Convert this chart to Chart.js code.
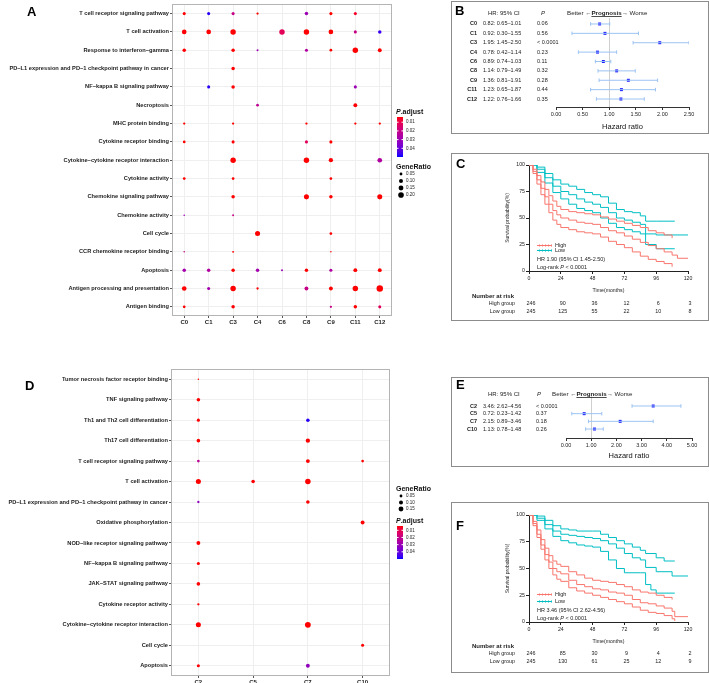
<!DOCTYPE html>
<html>
<head>
<meta charset="utf-8">
<script src="https://cdn.jsdelivr.net/npm/chart.js@4"></script>
<style>
  body { margin: 0; background: #fff; }
  #wrap { position: relative; width: 709px; height: 683px; overflow: hidden; font-family: "Liberation Sans", Arial, sans-serif; }
  canvas { position: absolute; left: 0; top: 0; }
  .box { position: absolute; border: 1px solid #8c8c8c; box-sizing: border-box; }
  .tag { position: absolute; font-weight: bold; font-size: 13px; line-height: 13px; color: #000; }
</style>
</head>
<body>
<div id="wrap">
  <div class="box" style="left:451px;top:1px;width:258px;height:133px"></div>
  <div class="box" style="left:451px;top:153px;width:258px;height:168px"></div>
  <div class="box" style="left:451px;top:377px;width:258px;height:90px"></div>
  <div class="box" style="left:451px;top:502px;width:258px;height:171px"></div>

  <canvas id="dotA" width="709" height="683"></canvas>
  <canvas id="forestB" width="709" height="683"></canvas>
  <canvas id="kmC" width="709" height="683"></canvas>
  <canvas id="dotD" width="709" height="683"></canvas>
  <canvas id="forestE" width="709" height="683"></canvas>
  <canvas id="kmF" width="709" height="683"></canvas>

  <div class="tag" style="left:27px;top:5px">A</div>
  <div class="tag" style="left:455px;top:4px">B</div>
  <div class="tag" style="left:456px;top:157px">C</div>
  <div class="tag" style="left:25px;top:379px">D</div>
  <div class="tag" style="left:456px;top:378px">E</div>
  <div class="tag" style="left:456px;top:519px">F</div>
</div>

<script>
// ---------- panel A : enrichment dot plot ----------
const clustersA = ['C0', 'C1', 'C3', 'C4', 'C6', 'C8', 'C9', 'C11', 'C12'];
const pathwaysA = [
  'T cell receptor signaling pathway',
  'T cell activation',
  'Response to interferon−gamma',
  'PD−L1 expression and PD−1 checkpoint pathway in cancer',
  'NF−kappa B signaling pathway',
  'Necroptosis',
  'MHC protein binding',
  'Cytokine receptor binding',
  'Cytokine−cytokine receptor interaction',
  'Cytokine activity',
  'Chemokine signaling pathway',
  'Chemokine activity',
  'Cell cycle',
  'CCR chemokine receptor binding',
  'Apoptosis',
  'Antigen processing and presentation',
  'Antigen binding'
];
// [pathway index, cluster, GeneRatio, p.adjust]
const dotsA = [
  [0, 'C0', 0.06, 0.004], [0, 'C1', 0.06, 0.048], [0, 'C3', 0.06, 0.02], [0, 'C4', 0.034, 0.004],
  [0, 'C8', 0.077, 0.03], [0, 'C9', 0.06, 0.004], [0, 'C11', 0.06, 0.006],
  [1, 'C0', 0.137, 0.004], [1, 'C1', 0.137, 0.004], [1, 'C3', 0.187, 0.004], [1, 'C6', 0.187, 0.012],
  [1, 'C8', 0.187, 0.004], [1, 'C9', 0.137, 0.004], [1, 'C11', 0.06, 0.02], [1, 'C12', 0.077, 0.046],
  [2, 'C0', 0.077, 0.004], [2, 'C3', 0.077, 0.004], [2, 'C4', 0.024, 0.03], [2, 'C8', 0.06, 0.025],
  [2, 'C9', 0.047, 0.004], [2, 'C11', 0.187, 0.004], [2, 'C12', 0.095, 0.004],
  [3, 'C3', 0.077, 0.004],
  [4, 'C1', 0.06, 0.048], [4, 'C3', 0.077, 0.004], [4, 'C11', 0.06, 0.03],
  [5, 'C4', 0.047, 0.022], [5, 'C11', 0.095, 0.004],
  [6, 'C0', 0.034, 0.004], [6, 'C3', 0.034, 0.004], [6, 'C8', 0.034, 0.004], [6, 'C11', 0.034, 0.004], [6, 'C12', 0.034, 0.004],
  [7, 'C0', 0.047, 0.004], [7, 'C3', 0.06, 0.004], [7, 'C8', 0.06, 0.012], [7, 'C9', 0.06, 0.004],
  [8, 'C3', 0.187, 0.004], [8, 'C8', 0.187, 0.004], [8, 'C9', 0.115, 0.004], [8, 'C12', 0.137, 0.025],
  [9, 'C0', 0.047, 0.004], [9, 'C3', 0.047, 0.004], [9, 'C9', 0.047, 0.004],
  [10, 'C3', 0.077, 0.004], [10, 'C8', 0.16, 0.004], [10, 'C9', 0.077, 0.004], [10, 'C12', 0.16, 0.004],
  [11, 'C0', 0.015, 0.03], [11, 'C3', 0.024, 0.02],
  [12, 'C4', 0.16, 0.004], [12, 'C9', 0.047, 0.004],
  [13, 'C0', 0.015, 0.02], [13, 'C3', 0.024, 0.004], [13, 'C9', 0.015, 0.004],
  [14, 'C0', 0.077, 0.028], [14, 'C1', 0.077, 0.025], [14, 'C3', 0.077, 0.004], [14, 'C4', 0.077, 0.028],
  [14, 'C6', 0.024, 0.03], [14, 'C8', 0.077, 0.004], [14, 'C9', 0.06, 0.025], [14, 'C11', 0.095, 0.004], [14, 'C12', 0.095, 0.004],
  [15, 'C0', 0.137, 0.004], [15, 'C1', 0.06, 0.028], [15, 'C3', 0.187, 0.004], [15, 'C4', 0.034, 0.004],
  [15, 'C8', 0.095, 0.02], [15, 'C9', 0.095, 0.004], [15, 'C11', 0.187, 0.004], [15, 'C12', 0.26, 0.004],
  [16, 'C0', 0.047, 0.004], [16, 'C3', 0.077, 0.004], [16, 'C9', 0.034, 0.02], [16, 'C11', 0.077, 0.004], [16, 'C12', 0.06, 0.012]
];

// ---------- panel B : forest plot ----------
const clustersB = ['C0', 'C1', 'C3', 'C4', 'C6', 'C8', 'C9', 'C11', 'C12'];
const hrB = [0.82, 0.92, 1.95, 0.78, 0.89, 1.14, 1.36, 1.23, 1.22];
const loB = [0.65, 0.30, 1.45, 0.42, 0.74, 0.79, 0.81, 0.65, 0.76];
const hiB = [1.01, 1.55, 2.50, 1.14, 1.03, 1.49, 1.91, 1.87, 1.66];
const pB = ['0.06', '0.56', '< 0.0001', '0.23', '0.11', '0.32', '0.28', '0.44', '0.35'];

// ---------- panel C : KM curves (time in months, survival %) ----------
const cHighUp = [[0,100],[3,96],[6,90],[9,84],[12,77],[15,71],[18,66],[21,61],[24,58],[30,56],[36,55],[42,54],[48,53],[54,51],[60,49],[66,47],[72,45],[78,43],[84,41],[90,38],[96,36],[102,34],[108,31]];
const cHighMain = [[0,100],[3,94],[6,86],[9,78],[12,70],[15,63],[18,57],[21,53],[24,50],[30,48],[36,46],[42,45],[48,44],[54,41],[60,38],[66,36],[72,33],[78,30],[84,27],[90,24],[96,21],[102,18],[108,15],[112,12],[120,12]];
const cHighLow = [[0,100],[3,92],[6,82],[9,72],[12,63],[15,55],[18,48],[21,44],[24,41],[30,39],[36,37],[42,36],[48,35],[54,32],[60,28],[66,25],[72,22],[78,18],[84,14],[90,11],[96,9],[102,7],[108,4]];
const cLowUp = [[0,100],[6,98],[12,92],[18,86],[24,82],[30,80],[36,77],[42,74],[48,72],[54,70],[60,64],[66,58],[72,56],[78,55],[84,52],[88,47],[96,47],[110,47]];
const cLowMain = [[0,100],[6,96],[12,88],[18,80],[24,75],[30,72],[36,68],[42,65],[48,63],[54,60],[60,55],[66,50],[72,48],[78,46],[84,44],[88,35],[96,34],[120,34]];
const cLowLow = [[0,100],[6,93],[12,83],[18,74],[24,68],[30,63],[36,59],[42,57],[48,55],[54,50],[60,45],[66,41],[72,39],[78,37],[84,35],[88,25],[96,21],[110,21]];
const riskTimes = [0, 24, 48, 72, 96, 120];
const cRiskHigh = [246, 90, 36, 12, 6, 3];
const cRiskLow = [245, 125, 55, 22, 10, 8];

// ---------- panel D : enrichment dot plot ----------
const clustersD = ['C2', 'C5', 'C7', 'C10'];
const pathwaysD = [
  'Tumor necrosis factor receptor binding',
  'TNF signaling pathway',
  'Th1 and Th2 cell differentiation',
  'Th17 cell differentiation',
  'T cell receptor signaling pathway',
  'T cell activation',
  'PD−L1 expression and PD−1 checkpoint pathway in cancer',
  'Oxidative phosphorylation',
  'NOD−like receptor signaling pathway',
  'NF−kappa B signaling pathway',
  'JAK−STAT signaling pathway',
  'Cytokine receptor activity',
  'Cytokine−cytokine receptor interaction',
  'Cell cycle',
  'Apoptosis'
];
const dotsD = [
  [0, 'C2', 0.015, 0.004],
  [1, 'C2', 0.08, 0.004],
  [2, 'C2', 0.06, 0.004], [2, 'C7', 0.08, 0.048],
  [3, 'C2', 0.08, 0.004], [3, 'C7', 0.115, 0.004],
  [4, 'C2', 0.045, 0.022], [4, 'C7', 0.095, 0.004], [4, 'C10', 0.045, 0.004],
  [5, 'C2', 0.16, 0.004], [5, 'C5', 0.08, 0.004], [5, 'C7', 0.19, 0.004],
  [6, 'C2', 0.034, 0.032], [6, 'C7', 0.08, 0.004],
  [7, 'C10', 0.095, 0.004],
  [8, 'C2', 0.095, 0.004],
  [9, 'C2', 0.06, 0.004],
  [10, 'C2', 0.08, 0.004],
  [11, 'C2', 0.034, 0.004],
  [12, 'C2', 0.16, 0.004], [12, 'C7', 0.21, 0.004],
  [13, 'C10', 0.06, 0.004],
  [14, 'C2', 0.06, 0.004], [14, 'C7', 0.095, 0.032]
];

// ---------- panel E : forest plot ----------
const clustersE = ['C2', 'C5', 'C7', 'C10'];
const hrE = [3.46, 0.72, 2.15, 1.13];
const loE = [2.62, 0.23, 0.89, 0.78];
const hiE = [4.56, 1.42, 3.46, 1.48];
const pE = ['< 0.0001', '0.37', '0.18', '0.26'];

// ---------- panel F : KM curves ----------
const fHighUp = [[0,100],[3,94],[6,86],[9,77],[12,69],[15,62],[18,57],[21,54],[24,52],[30,47],[36,44],[42,41],[48,39],[54,38],[60,37],[66,35],[72,33],[78,30],[84,28],[90,27],[96,25],[102,23],[108,21]];
const fHighMain = [[0,100],[3,92],[6,82],[9,72],[12,63],[15,56],[18,50],[21,47],[24,45],[30,39],[36,35],[42,33],[48,31],[54,30],[60,28],[66,27],[72,25],[78,21],[84,18],[90,17],[96,15],[102,13],[108,10],[110,5],[120,5]];
const fHighLow = [[0,100],[3,90],[6,79],[9,68],[12,58],[15,50],[18,44],[21,40],[24,38],[30,32],[36,29],[42,27],[48,25],[54,23],[60,21],[66,19],[72,17],[78,14],[84,11],[90,9],[96,8],[102,6],[108,3],[110,1]];
const fLowUp = [[0,100],[6,99],[12,95],[18,90],[24,87],[30,86],[36,85],[48,85],[54,82],[60,79],[66,76],[72,73],[78,70],[84,67],[88,64],[96,60],[102,57],[110,57]];
const fLowMain = [[0,100],[6,97],[12,91],[18,85],[24,82],[30,81],[36,80],[42,79],[48,78],[54,76],[60,73],[66,69],[72,64],[78,60],[84,58],[88,51],[96,47],[108,43],[120,43]];
const fLowLow = [[0,100],[6,95],[12,87],[18,80],[24,76],[30,74],[36,72],[42,71],[48,70],[54,66],[60,58],[66,50],[72,46],[84,46],[88,35],[92,30],[96,27],[110,27]];
const fRiskHigh = [246, 85, 30, 9, 4, 2];
const fRiskLow = [245, 130, 61, 25, 12, 9];

// ---------- shared helpers ----------
const FAM = '"Liberation Sans", Arial, Helvetica, sans-serif';
const font = (size, weight, style) => `${style || 'normal'} ${weight || 'normal'} ${size}px ${FAM}`;
Chart.defaults.font.family = FAM;
Chart.defaults.color = '#222';
Chart.defaults.animation = false;
Chart.defaults.responsive = false;
Chart.defaults.plugins.legend.display = false;
Chart.defaults.plugins.tooltip.enabled = false;

const HIGH_COL = '#F8766D';
const LOW_COL = '#00BFC4';
const P_LO = 0.004, P_HI = 0.05;

function colorAt(t) {
  t = Math.min(1, Math.max(0, t));
  const r = Math.round(255 * Math.pow(1 - t, 0.6));
  const b = Math.round(255 * Math.pow(t, 0.6));
  return `rgb(${r},0,${b})`;
}
const padjColor = p => colorAt((p - P_LO) / (P_HI - P_LO));
const dotR = g => 6.3 * Math.sqrt(g);

const frame = {
  id: 'frame',
  afterDatasetsDraw(chart) {
    const a = chart.chartArea, ctx = chart.ctx;
    ctx.save();
    ctx.strokeStyle = '#b4b4b4';
    ctx.lineWidth = 1;
    ctx.strokeRect(Math.round(a.left) + 0.5, Math.round(a.top) + 0.5,
      Math.round(a.right - a.left) - 1, Math.round(a.bottom - a.top) - 1);
    ctx.restore();
  }
};

function padjLegend(ctx, x, titleY, barTop, barH) {
  ctx.textBaseline = 'middle';
  ctx.textAlign = 'left';
  ctx.fillStyle = '#111';
  ctx.font = font(7, 'bold', 'italic');
  ctx.fillText('P', x, titleY);
  const w = ctx.measureText('P').width;
  ctx.font = font(7, 'bold');
  ctx.fillText('.adjust', x + w, titleY);
  const g = ctx.createLinearGradient(0, barTop, 0, barTop + barH);
  for (let i = 0; i <= 20; i++) g.addColorStop(i / 20, colorAt(i / 20));
  ctx.fillStyle = g;
  ctx.fillRect(x + 1, barTop, 6, barH);
  ctx.font = font(4.5);
  [0.01, 0.02, 0.03, 0.04].forEach(v => {
    const y = barTop + (v - P_LO) / (P_HI - P_LO) * barH;
    ctx.strokeStyle = '#fff';
    ctx.beginPath();
    ctx.moveTo(x + 1, y); ctx.lineTo(x + 2.5, y);
    ctx.moveTo(x + 5.5, y); ctx.lineTo(x + 7, y);
    ctx.stroke();
    ctx.fillStyle = '#222';
    ctx.fillText(v.toFixed(2), x + 10, y);
  });
}

function geneLegend(ctx, x, titleY, vals, y0, dy) {
  ctx.textBaseline = 'middle';
  ctx.textAlign = 'left';
  ctx.fillStyle = '#111';
  ctx.font = font(7, 'bold');
  ctx.fillText('GeneRatio', x, titleY);
  vals.forEach((v, i) => {
    const y = y0 + i * dy;
    ctx.fillStyle = '#000';
    ctx.beginPath();
    ctx.arc(x + 5, y, dotR(v), 0, Math.PI * 2);
    ctx.fill();
    ctx.fillStyle = '#222';
    ctx.font = font(4.5);
    ctx.fillText(v.toFixed(2), x + 10, y);
  });
}

function dotPlot(id, rows, cols, dots, area, drawLegend) {
  return new Chart(document.getElementById(id), {
    type: 'scatter',
    data: {
      datasets: [{
        data: dots.map(d => ({ y: rows[d[0]], x: d[1], g: d[2], p: d[3] })),
        pointRadius: c => dotR(c.raw.g),
        pointBackgroundColor: c => padjColor(c.raw.p),
        pointBorderWidth: 0
      }]
    },
    options: {
      layout: { padding: { left: 0, top: area.top, right: 709 - area.right, bottom: 683 - area.bottom - area.xh } },
      scales: {
        x: {
          type: 'category', labels: cols, offset: true,
          grid: { color: '#efefef', tickColor: '#555', tickLength: 2 },
          border: { display: false },
          ticks: { font: { size: 6, weight: 'bold' }, color: '#222', padding: 1, autoSkip: false, maxRotation: 0 },
          afterFit: s => { s.height = area.xh; }
        },
        y: {
          type: 'category', labels: rows, offset: true,
          grid: { color: '#efefef', tickColor: '#555', tickLength: 2 },
          border: { display: false },
          ticks: { font: { size: 5.7, weight: 'bold' }, color: '#222', padding: 1, autoSkip: false },
          afterFit: s => { s.width = area.left; }
        }
      }
    },
    plugins: [frame, { id: 'dotLegend', afterDraw: c => { c.ctx.save(); drawLegend(c.ctx); c.ctx.restore(); } }]
  });
}

function forest(id, labels, hr, lo, hi, pv, o) {
  const ciSets = labels.map((l, i) => ({
    showLine: true,
    data: [{ x: lo[i], y: i }, { x: hi[i], y: i }],
    borderColor: '#9cc3f2', borderWidth: 1,
    pointStyle: 'line', pointRotation: 90, pointRadius: 1.8,
    pointBorderColor: '#9cc3f2', pointBorderWidth: 1
  }));
  const hrSet = {
    data: hr.map((v, i) => ({ x: v, y: i })),
    pointStyle: 'rect', pointRadius: 2.1,
    pointBackgroundColor: '#1a1aff', pointBorderWidth: 0
  };
  const deco = {
    id: 'forestDeco',
    beforeDatasetsDraw(chart) {
      const { ctx, scales: { x } } = chart;
      const px = Math.round(x.getPixelForValue(1)) + 0.5;
      ctx.save();
      ctx.strokeStyle = '#cfcfcf';
      ctx.lineWidth = 1;
      ctx.beginPath();
      ctx.moveTo(px, o.lineTop);
      ctx.lineTo(px, chart.chartArea.bottom);
      ctx.stroke();
      ctx.restore();
    },
    afterDraw(chart) {
      const { ctx, scales: { y } } = chart;
      ctx.save();
      ctx.textBaseline = 'middle';
      ctx.fillStyle = '#222';
      // header
      ctx.font = font(6);
      ctx.textAlign = 'left';
      ctx.fillText('HR: 95% CI', 488, o.headY);
      ctx.font = font(6, 'normal', 'italic');
      ctx.fillText('P', o.pHeadX, o.headY);
      let cx = o.progX;
      ctx.font = font(6.2);
      ctx.fillText('Better \u2190', cx, o.headY);
      cx += ctx.measureText('Better \u2190').width;
      ctx.font = font(6.2, 'bold');
      const pw = ctx.measureText('Prognosis').width;
      ctx.fillText('Prognosis', cx, o.headY);
      ctx.fillRect(cx, o.headY + 3.2, pw, 0.8);
      cx += pw;
      ctx.font = font(6.2);
      ctx.fillText('\u2192 Worse', cx, o.headY);
      // rows
      labels.forEach((l, i) => {
        const py = y.getPixelForValue(i);
        ctx.font = font(5.5, 'bold');
        ctx.textAlign = 'right';
        ctx.fillText(l, 477, py);
        ctx.font = font(5.5);
        ctx.textAlign = 'left';
        ctx.fillText(`${hr[i].toFixed(2)}: ${lo[i].toFixed(2)}\u2013${hi[i].toFixed(2)}`, 483, py);
        ctx.fillText(pv[i], o.pX, py);
      });
      ctx.restore();
    }
  };
  return new Chart(document.getElementById(id), {
    type: 'scatter',
    data: { datasets: [...ciSets, hrSet] },
    options: {
      layout: { padding: { left: o.left, top: o.top, right: 709 - o.right, bottom: 683 - o.bottom - o.xh } },
      scales: {
        x: {
          type: 'linear', min: 0, max: o.max,
          ticks: { stepSize: o.step, callback: v => v.toFixed(2), font: { size: 5.5 }, color: '#222', padding: 1, maxRotation: 0, autoSkip: false },
          grid: { drawOnChartArea: false, tickLength: 3, tickColor: '#333' },
          border: { color: '#333' },
          title: { display: true, text: 'Hazard ratio', font: { size: 7.5 }, color: '#111', padding: 0 },
          afterFit: s => { s.height = o.xh; }
        },
        y: { type: 'linear', reverse: true, min: o.ymin, max: o.ymax, display: false }
      }
    },
    plugins: [deco]
  });
}

function kmChart(id, curves, riskHigh, riskLow, o) {
  const datasets = curves.map(c => ({
    data: c[0].map(p => ({ x: p[0], y: p[1] })),
    borderColor: c[1], borderWidth: 1, stepped: true,
    pointRadius: 0, fill: false
  }));
  const deco = {
    id: 'kmDeco',
    afterDraw(chart) {
      const { ctx, scales: { x } } = chart;
      ctx.save();
      ctx.textBaseline = 'middle';
      [['High', HIGH_COL, o.legY[0]], ['Low', LOW_COL, o.legY[1]]].forEach(([t, c, y]) => {
        ctx.strokeStyle = c;
        ctx.lineWidth = 1;
        ctx.beginPath();
        ctx.moveTo(537, y + 0.5); ctx.lineTo(552, y + 0.5);
        for (let k = 539; k <= 551; k += 3) { ctx.moveTo(k + 0.5, y - 0.5); ctx.lineTo(k + 0.5, y + 1.5); }
        ctx.stroke();
        ctx.fillStyle = '#222';
        ctx.font = font(5.5);
        ctx.textAlign = 'left';
        ctx.fillText(t, 555, y);
      });
      ctx.fillText(o.hrText, 537, o.hrY);
      let cx = 537;
      ctx.fillText('Log-rank ', cx, o.lrY);
      cx += ctx.measureText('Log-rank ').width;
      ctx.font = font(5.5, 'normal', 'italic');
      ctx.fillText('P', cx, o.lrY);
      cx += ctx.measureText('P').width;
      ctx.font = font(5.5);
      ctx.fillText(' < 0.0001', cx, o.lrY);
      // number at risk table
      ctx.font = font(6, 'bold');
      ctx.fillText('Number at risk', 472, o.riskY[0]);
      ctx.font = font(5.4);
      ctx.textAlign = 'right';
      ctx.fillText('High group', 515, o.riskY[1]);
      ctx.fillText('Low group', 515, o.riskY[2]);
      ctx.textAlign = 'center';
      riskTimes.forEach((t, i) => {
        const px = x.getPixelForValue(t) + 2;
        ctx.fillText(String(riskHigh[i]), px, o.riskY[1]);
        ctx.fillText(String(riskLow[i]), px, o.riskY[2]);
      });
      ctx.restore();
    }
  };
  return new Chart(document.getElementById(id), {
    type: 'line',
    data: { datasets },
    options: {
      layout: { padding: { left: o.left - 29, top: o.top, right: 709 - o.right, bottom: 683 - o.bottom - o.xh } },
      scales: {
        x: {
          type: 'linear', min: 0, max: 120,
          ticks: { stepSize: 24, font: { size: 5.2 }, color: '#222', padding: 1, maxRotation: 0, autoSkip: false },
          grid: { drawOnChartArea: false, tickLength: 3, tickColor: '#222' },
          border: { color: '#222' },
          title: { display: true, text: 'Time(months)', font: { size: 5.2 }, color: '#222', padding: 0 },
          afterFit: s => { s.height = o.xh; }
        },
        y: {
          type: 'linear', min: 0, max: 100,
          ticks: { stepSize: 25, font: { size: 5.2 }, color: '#222', padding: 1 },
          grid: { drawOnChartArea: false, tickLength: 3, tickColor: '#222' },
          border: { color: '#222' },
          title: { display: true, text: 'Survival probability(%)', font: { size: 5 }, color: '#222', padding: { top: 5, bottom: 0 } },
          afterFit: s => { s.width = 29; }
        }
      }
    },
    plugins: [deco]
  });
}

// ---------- build ----------
dotPlot('dotA', pathwaysA, clustersA, dotsA,
  { left: 172, top: 2, right: 392, bottom: 316, xh: 12 },
  ctx => { padjLegend(ctx, 396, 112, 117, 40); geneLegend(ctx, 396, 167, [0.05, 0.10, 0.15, 0.20], 174, 7); });

forest('forestB', clustersB, hrB, loB, hiB, pB,
  { left: 556, right: 689, top: 19, bottom: 107, xh: 24, max: 2.5, step: 0.5,
    ymin: -0.53, ymax: 8.85, headY: 13, pHeadX: 541, progX: 567, pX: 537, lineTop: 18 });

kmChart('kmC', [[cHighUp, HIGH_COL], [cHighMain, HIGH_COL], [cHighLow, HIGH_COL],
                [cLowUp, LOW_COL], [cLowMain, LOW_COL], [cLowLow, LOW_COL]], cRiskHigh, cRiskLow,
  { left: 529, right: 688, top: 165, bottom: 271, xh: 23,
    legY: [245, 250], hrText: 'HR 1.90 (95% CI 1.45-2.50)', hrY: 259, lrY: 267, riskY: [296, 304, 312] });

dotPlot('dotD', pathwaysD, clustersD, dotsD,
  { left: 171, top: 369, right: 390, bottom: 676, xh: 7 },
  ctx => { geneLegend(ctx, 396, 489, [0.05, 0.10, 0.15], 496, 6.5); padjLegend(ctx, 396, 521, 526, 33); });

forest('forestE', clustersE, hrE, loE, hiE, pE,
  { left: 566, right: 692, top: 401, bottom: 438, xh: 22, max: 5, step: 1,
    ymin: -0.65, ymax: 4.17, headY: 394, pHeadX: 537, progX: 552, pX: 536, lineTop: 395 });

kmChart('kmF', [[fHighUp, HIGH_COL], [fHighMain, HIGH_COL], [fHighLow, HIGH_COL],
                [fLowUp, LOW_COL], [fLowMain, LOW_COL], [fLowLow, LOW_COL]], fRiskHigh, fRiskLow,
  { left: 529, right: 688, top: 515, bottom: 622, xh: 23,
    legY: [594, 601], hrText: 'HR 3.46 (95% CI 2.62-4.56)', hrY: 610, lrY: 618, riskY: [646, 654, 662] });
</script>
</body>
</html>
